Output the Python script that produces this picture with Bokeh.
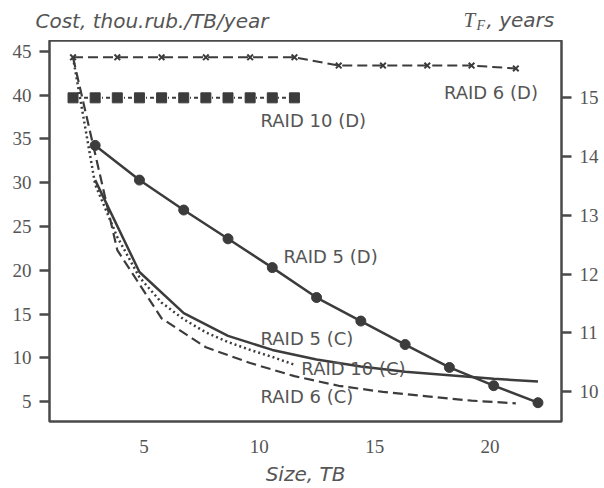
from bokeh.plotting import figure
from bokeh.models import Range1d, LinearAxis, FixedTicker, Label
from bokeh.layouts import column
from bokeh.core.properties import value
from bokeh.embed import file_html
from bokeh.resources import INLINE

# Array size, TB
size_r6d = [1.92, 3.84, 5.76, 7.68, 9.60, 11.52, 13.44, 15.36, 17.28, 19.20, 21.12]
size_r10d = [1.92, 2.88, 3.84, 4.80, 5.76, 6.72, 7.68, 8.64, 9.60, 10.56, 11.52]
size_r5d = [2.88, 4.80, 6.72, 8.64, 10.56, 12.48, 14.40, 16.32, 18.24, 20.16, 22.08]
size_r5c = [2.88, 4.80, 6.72, 8.64, 10.56, 12.48, 14.40, 16.32, 18.24, 20.16, 22.08]
size_r10c = [1.92, 2.88, 3.84, 4.80, 5.76, 6.72, 7.68, 8.64, 9.60, 10.56, 11.52]
size_r6c = [1.92, 3.84, 5.76, 7.68, 9.60, 11.52, 13.44, 15.36, 17.28, 19.20, 21.12]

# Mean time to failure T_F, years (right axis)
tf_r6d = [15.69, 15.69, 15.69, 15.69, 15.69, 15.69, 15.55, 15.55, 15.55, 15.55, 15.50]
tf_r10d = [15.0, 15.0, 15.0, 15.0, 15.0, 15.0, 15.0, 15.0, 15.0, 15.0, 15.0]
tf_r5d = [14.19, 13.60, 13.09, 12.60, 12.11, 11.60, 11.20, 10.80, 10.41, 10.10, 9.81]

# Cost, thou. rub. per TB per year (left axis)
cost_r5c = [30.3, 19.8, 15.1, 12.5, 10.9, 9.8, 9.0, 8.4, 8.0, 7.6, 7.3]
cost_r10c = [44.3, 29.8, 23.8, 19.2, 16.3, 14.4, 12.9, 11.8, 10.9, 10.1, 9.2]
cost_r6c = [44.3, 22.3, 14.5, 11.2, 9.4, 7.9, 6.8, 6.1, 5.6, 5.1, 4.8]

x_ticks = [5, 10, 15, 20]
cost_ticks = [5, 10, 15, 20, 25, 30, 35, 40, 45]
tf_ticks = [10, 11, 12, 13, 14, 15]

INK = "#3c3c3c"
TEXT = "#555555"
SANS = "DejaVu Sans"
SERIF = "Liberation Serif"

# Header strip carrying the two axis titles (its own frame spans the full width)
head = figure(width=604, height=40, output_backend="svg", toolbar_location=None,
              x_range=Range1d(0, 604), y_range=Range1d(40, 0),
              x_axis_type=None, y_axis_type=None,
              min_border_left=0, min_border_right=0, min_border_top=0, min_border_bottom=0)
head.frame_align = False
head.outline_line_color = None
head.xgrid.visible = False
head.ygrid.visible = False
head.text(x=[35], y=[20], text=["Cost, thou.rub./TB/year"], text_font=value(SANS),
          text_font_size="20px", text_font_style="italic", text_color=TEXT,
          text_baseline="middle", text_align="left")
head.text(x=[463], y=[19], text=["T"], text_font=value(SERIF), text_font_size="21px",
          text_font_style="italic", text_color=TEXT, text_baseline="middle")
head.text(x=[476], y=[25], text=["F"], text_font=value(SERIF), text_font_size="14px",
          text_font_style="italic", text_color=TEXT, text_baseline="middle")
head.text(x=[486], y=[19], text=[", years"], text_font=value(SANS), text_font_size="20px",
          text_font_style="italic", text_color=TEXT, text_baseline="middle",
          text_align="left")

p = figure(width=604, height=448, output_backend="svg", toolbar_location=None,
           x_range=Range1d(0.9, 23.1), y_range=Range1d(2.72, 46.25),
           min_border_left=49, min_border_right=43,
           min_border_top=0, min_border_bottom=66)
p.frame_align = False
p.extra_y_ranges = {"tf": Range1d(9.49, 15.976)}

p.xgrid.visible = False
p.ygrid.visible = False
p.outline_line_color = "#4a4a4a"
p.outline_line_width = 2.5

right = LinearAxis(y_range_name="tf")
p.add_layout(right, "right")

for ax, ticks in ((p.xaxis[0], x_ticks), (p.yaxis[0], cost_ticks), (right, tf_ticks)):
    ax.ticker = FixedTicker(ticks=ticks)
    ax.axis_line_color = None
    ax.minor_tick_line_color = None
    ax.major_tick_in = 0
    ax.major_tick_out = 10
    ax.major_tick_line_color = "#4a4a4a"
    ax.major_tick_line_width = 2.5
    ax.major_label_text_font = SERIF
    ax.major_label_text_font_size = "19px"
    ax.major_label_text_color = TEXT
    ax.major_label_standoff = 8

xa = p.xaxis[0]
xa.major_tick_out = 0
xa.major_label_standoff = 18
xa.axis_label = "Size, TB"
xa.axis_label_text_font = SANS
xa.axis_label_text_font_size = "20px"
xa.axis_label_text_font_style = "italic"
xa.axis_label_text_color = TEXT
xa.axis_label_standoff = 6

# T_F curves (right axis)
p.line(size_r6d, tf_r6d, y_range_name="tf", line_color=INK, line_width=2, line_dash="10 5")
p.scatter(size_r6d, tf_r6d, y_range_name="tf", marker="x", size=8, line_color=INK, line_width=2)

p.line(size_r10d, tf_r10d, y_range_name="tf", line_color=INK, line_width=2, line_dash="4 3 1 3")
p.scatter(size_r10d, tf_r10d, y_range_name="tf", marker="square", size=10,
          fill_color=INK, line_color=INK)

p.line(size_r5d, tf_r5d, y_range_name="tf", line_color=INK, line_width=2.5)
p.scatter(size_r5d, tf_r5d, y_range_name="tf", marker="circle", size=10,
          fill_color=INK, line_color=INK)

# Cost curves (left axis)
p.line(size_r5c, cost_r5c, line_color=INK, line_width=2.5)
p.line(size_r10c, cost_r10c, line_color=INK, line_width=2.5, line_dash="2 3")
p.line(size_r6c, cost_r6c, line_color=INK, line_width=2.2, line_dash="10 5")

# Curve names
names = [("RAID 6 (D)", 18.0, 40.3), ("RAID 10 (D)", 10.05, 37.1),
         ("RAID 5 (D)", 11.05, 21.6), ("RAID 5 (C)", 10.05, 12.2),
         ("RAID 10 (C)", 11.82, 8.76), ("RAID 6 (C)", 10.05, 5.57)]
for txt, nx, ny in names:
    p.add_layout(Label(x=nx, y=ny, text=txt, text_font=SANS, text_font_size="18px",
                       text_color=TEXT, text_baseline="middle", text_align="left"))

layout = column(head, p, spacing=0)
open("out.html", "w").write(file_html(layout, INLINE))
